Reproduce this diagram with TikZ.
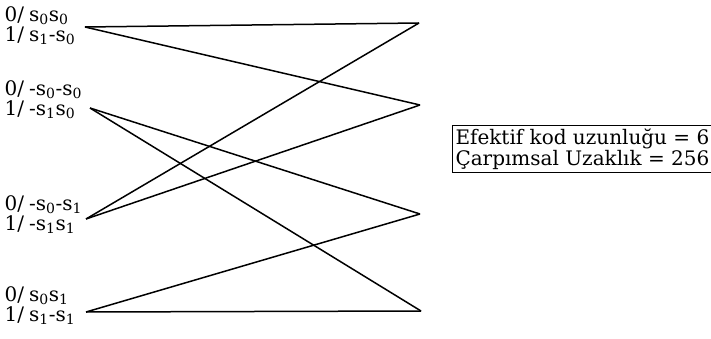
\documentclass[tikz,border=0pt]{standalone}
\usepackage{fontspec}
\setmainfont{DejaVu Serif}
\usetikzlibrary{positioning}
\newcommand{\sig}[1]{s\textsubscript{#1}}
\newcommand{\slsep}{/\kern5pt}

\begin{document}
\begin{tikzpicture}[x=1pt,y=-1pt,line width=1.5pt,
  every node/.style={font=\fontsize{20}{20}\selectfont},
  lbl/.style={anchor=north west,align=left,inner sep=0pt},
  info/.style={draw,line width=1pt,anchor=north west,align=left,inner sep=3pt,
    font=\fontsize{20}{21}\selectfont}]
\useasboundingbox (0,0) rectangle (711,339);
% left states
\coordinate (l0) at (85,27);
\coordinate (l1) at (90,108);
\coordinate (l2) at (86,219);
\coordinate (l3) at (86,312);
% right states
\coordinate (r0) at (419,23);
\coordinate (r1) at (420,105);
\coordinate (r2) at (420,214);
\coordinate (r3) at (421,311);
\node[lbl] (a0) at (4,6) {0\slsep\sig{0}\sig{0}\\1\slsep\sig{1}-\sig{0}};
\node[lbl] (a1) at (4,80) {0\slsep-\sig{0}-\sig{0}\\1\slsep-\sig{1}\sig{0}};
\node[lbl] (a2) at (4,195) {0\slsep-\sig{0}-\sig{1}\\1\slsep-\sig{1}\sig{1}};
\node[lbl] (a3) at (4,286) {0\slsep\sig{0}\sig{1}\\1\slsep\sig{1}-\sig{1}};
\node[info] (box) at (452,125) {Efektif kod uzunluğu = 6\\Çarpımsal Uzaklık = 256};
\path
(l0) edge (r0)
(l0) edge (r1)
(l1) edge (r2)
(l1) edge (r3)
(l2) edge (r0)
(l2) edge (r1)
(l3) edge (r2)
(l3) edge (r3);
\end{tikzpicture}
\end{document}
